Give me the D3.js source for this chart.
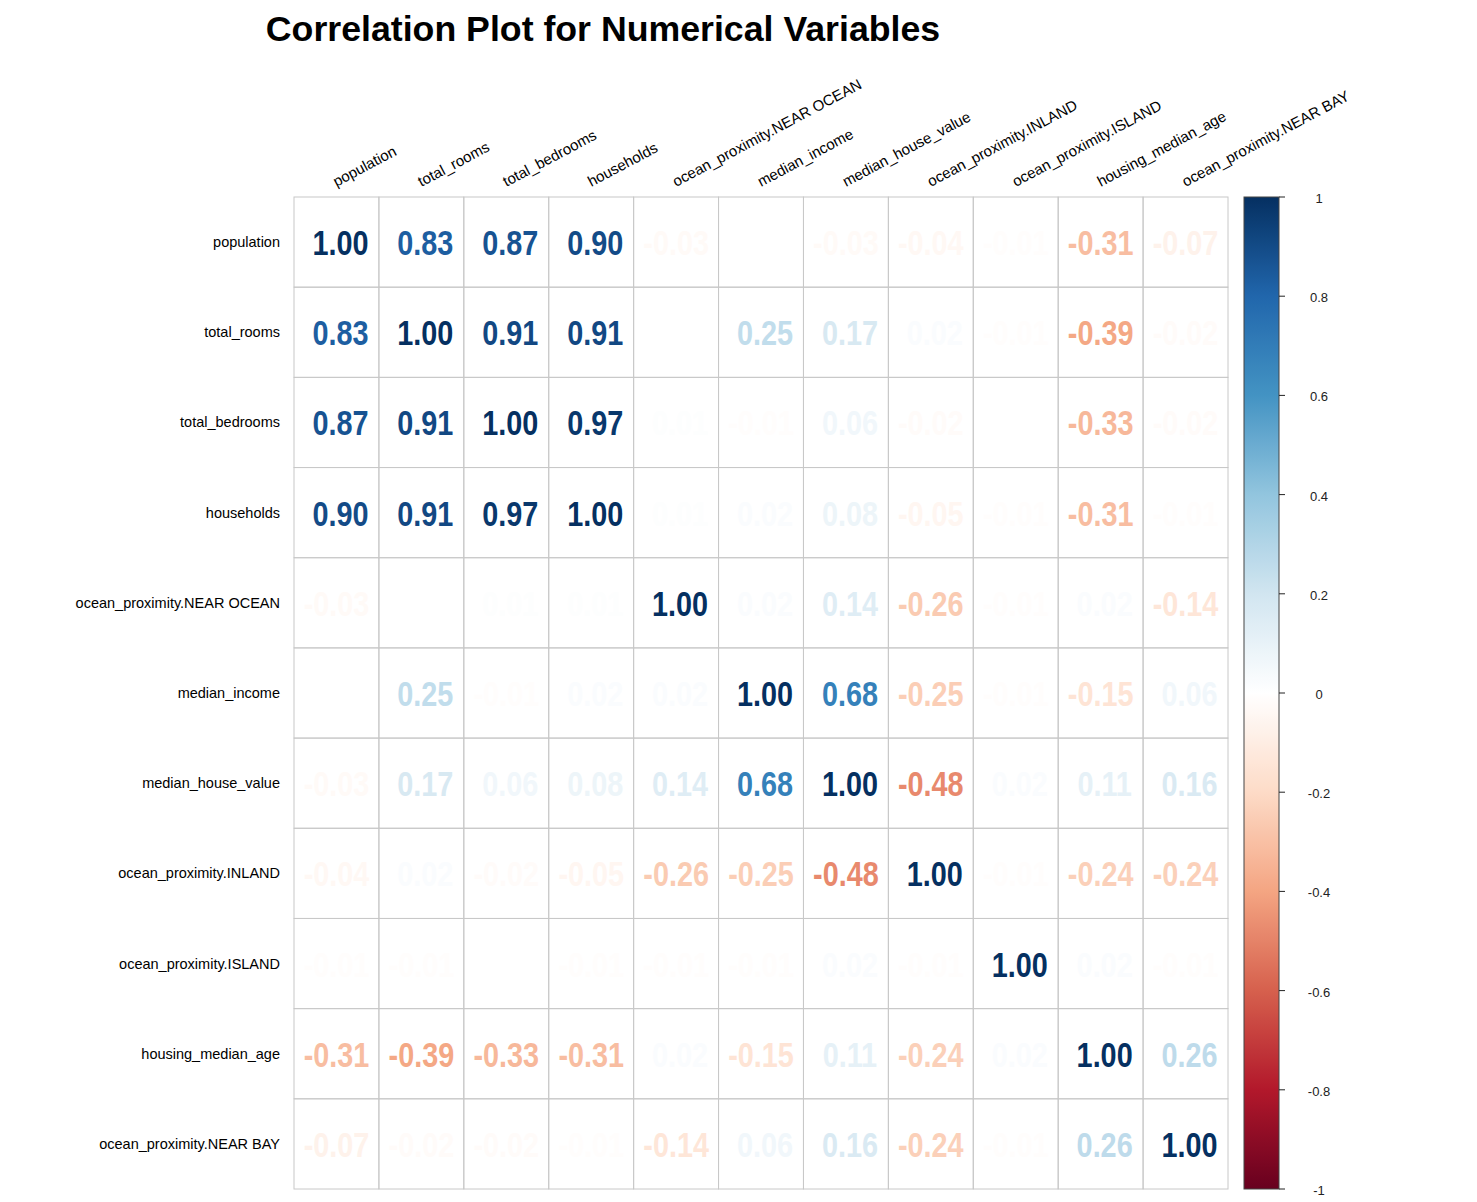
<!DOCTYPE html>
<html lang="en">
<head>
    <meta charset="UTF-8">
    <title>Correlation Plot</title>
    <script src="https://d3js.org/d3.v7.min.js"></script>
</head>
<style>
    body { margin: 0; background: #fff; }
    svg text { font-family: "Liberation Sans", Arial, Helvetica, sans-serif; }
</style>
<body>
<script>
    // variables, in the order the plot shows them
    const variables = [
        "population", "total_rooms", "total_bedrooms", "households",
        "ocean_proximity.NEAR OCEAN", "median_income", "median_house_value",
        "ocean_proximity.INLAND", "ocean_proximity.ISLAND",
        "housing_median_age", "ocean_proximity.NEAR BAY"
    ]

    // correlation matrix, one row per variable
    const corrPopulation = [1.00, 0.83, 0.87, 0.90, -0.03, 0.00, -0.03, -0.04, -0.01, -0.31, -0.07]
    const corrTotalRooms = [0.83, 1.00, 0.91, 0.91, 0.00, 0.25, 0.17, 0.02, -0.01, -0.39, -0.02]
    const corrTotalBedrooms = [0.87, 0.91, 1.00, 0.97, 0.01, -0.01, 0.06, -0.02, 0.00, -0.33, -0.02]
    const corrHouseholds = [0.90, 0.91, 0.97, 1.00, 0.01, 0.02, 0.08, -0.05, -0.01, -0.31, -0.01]
    const corrNearOcean = [-0.03, 0.00, 0.01, 0.01, 1.00, 0.02, 0.14, -0.26, -0.01, 0.02, -0.14]
    const corrMedianIncome = [0.00, 0.25, -0.01, 0.02, 0.02, 1.00, 0.68, -0.25, -0.01, -0.15, 0.06]
    const corrMedianHouseValue = [-0.03, 0.17, 0.06, 0.08, 0.14, 0.68, 1.00, -0.48, 0.02, 0.11, 0.16]
    const corrInland = [-0.04, 0.02, -0.02, -0.05, -0.26, -0.25, -0.48, 1.00, -0.01, -0.24, -0.24]
    const corrIsland = [-0.01, -0.01, 0.00, -0.01, -0.01, -0.01, 0.02, -0.01, 1.00, 0.02, -0.01]
    const corrHousingAge = [-0.31, -0.39, -0.33, -0.31, 0.02, -0.15, 0.11, -0.24, 0.02, 1.00, 0.26]
    const corrNearBay = [-0.07, -0.02, -0.02, -0.01, -0.14, 0.06, 0.16, -0.24, -0.01, 0.26, 1.00]

    const corrRows = [
        corrPopulation, corrTotalRooms, corrTotalBedrooms, corrHouseholds,
        corrNearOcean, corrMedianIncome, corrMedianHouseValue, corrInland,
        corrIsland, corrHousingAge, corrNearBay
    ]

    const legendTicks = [1, 0.8, 0.6, 0.4, 0.2, 0, -0.2, -0.4, -0.6, -0.8, -1]

    // RdBu palette as used by corrplot
    const palette = ["#67001F", "#B2182B", "#D6604D", "#F4A582", "#FDDBC7", "#FFFFFF",
                     "#D1E5F0", "#92C5DE", "#4393C3", "#2166AC", "#053061"]

    const W = 1477, H = 1202
    const grid = { left: 294, top: 197, right: 1228, bottom: 1189 }

    const color = d3.scaleLinear()
        .domain(d3.range(palette.length).map(i => -1 + 2 * i / (palette.length - 1)))
        .range(palette)
        .interpolate(d3.interpolateRgb)

    const x = d3.scaleBand().domain(variables).range([grid.left, grid.right])
    const y = d3.scaleBand().domain(variables).range([grid.top, grid.bottom])

    const svg = d3.select("body").append("svg")
        .attr("width", W)
        .attr("height", H)

    svg.append("rect").attr("width", W).attr("height", H).attr("fill", "#fff")

    svg.append("text")
        .attr("x", 603)
        .attr("y", 41)
        .attr("text-anchor", "middle")
        .style("font-size", "35.7px")
        .style("font-weight", "bold")
        .text("Correlation Plot for Numerical Variables")

    const cells = []
    corrRows.forEach((row, i) => {
        row.forEach((v, j) => cells.push({ row: variables[i], col: variables[j], value: v }))
    })

    // cell frames
    svg.append("g")
        .selectAll("rect")
        .data(cells)
        .join("rect")
            .attr("x", d => x(d.col))
            .attr("y", d => y(d.row))
            .attr("width", x.bandwidth())
            .attr("height", y.bandwidth())
            .attr("fill", "none")
            .attr("stroke", "#c8c8c8")
            .attr("stroke-width", 1)

    // numbers; positive ones padded with a space the way R's format() does
    const fmt = v => (v < 0 ? "" : "\u00A0") + v.toFixed(2)

    svg.append("g")
        .selectAll("text")
        .data(cells)
        .join("text")
            .attr("transform", d => "translate(" + (x(d.col) + x.bandwidth() / 2) + "," +
                (y(d.row) + y.bandwidth() / 2 + 13) + ") scale(0.8,1)")
            .attr("text-anchor", "middle")
            .style("font-size", "36px")
            .style("font-weight", "bold")
            .attr("fill", d => color(d.value))
            .text(d => fmt(d.value))

    // row labels
    svg.append("g")
        .selectAll("text")
        .data(variables)
        .join("text")
            .attr("x", grid.left - 14)
            .attr("y", d => y(d) + y.bandwidth() / 2 + 5)
            .attr("text-anchor", "end")
            .style("font-size", "14.5px")
            .text(d => d)

    // column labels
    svg.append("g")
        .selectAll("text")
        .data(variables)
        .join("text")
            .attr("transform", d => "translate(" + (x(d) + x.bandwidth() / 2) + ",187) rotate(-28)")
            .attr("text-anchor", "start")
            .style("font-size", "15px")
            .text(d => d)

    // colour legend
    const legendY = d3.scaleLinear().domain([1, -1]).range([grid.top, grid.bottom])
    const legendX = 1244, legendW = 35

    const grad = svg.append("defs").append("linearGradient")
        .attr("id", "corrGrad")
        .attr("x1", 0).attr("y1", 0).attr("x2", 0).attr("y2", 1)
    grad.selectAll("stop")
        .data(d3.range(0, 1.0001, 0.01))
        .join("stop")
            .attr("offset", t => t)
            .attr("stop-color", t => color(1 - 2 * t))

    svg.append("rect")
        .attr("x", legendX)
        .attr("y", legendY(1))
        .attr("width", legendW)
        .attr("height", legendY(-1) - legendY(1))
        .attr("fill", "url(#corrGrad)")
        .attr("stroke", "#444")
        .attr("stroke-width", 1)

    const tickG = svg.append("g")
    tickG.selectAll("line")
        .data(legendTicks)
        .join("line")
            .attr("x1", legendX + legendW)
            .attr("x2", legendX + legendW + 6)
            .attr("y1", d => legendY(d))
            .attr("y2", d => legendY(d))
            .attr("stroke", "#222")
    tickG.selectAll("text")
        .data(legendTicks)
        .join("text")
            .attr("x", 1319)
            .attr("y", d => legendY(d) + 6)
            .attr("text-anchor", "middle")
            .style("font-size", "13px")
            .attr("fill", "#222")
            .text(d => d)
</script>
</body>
</html>
